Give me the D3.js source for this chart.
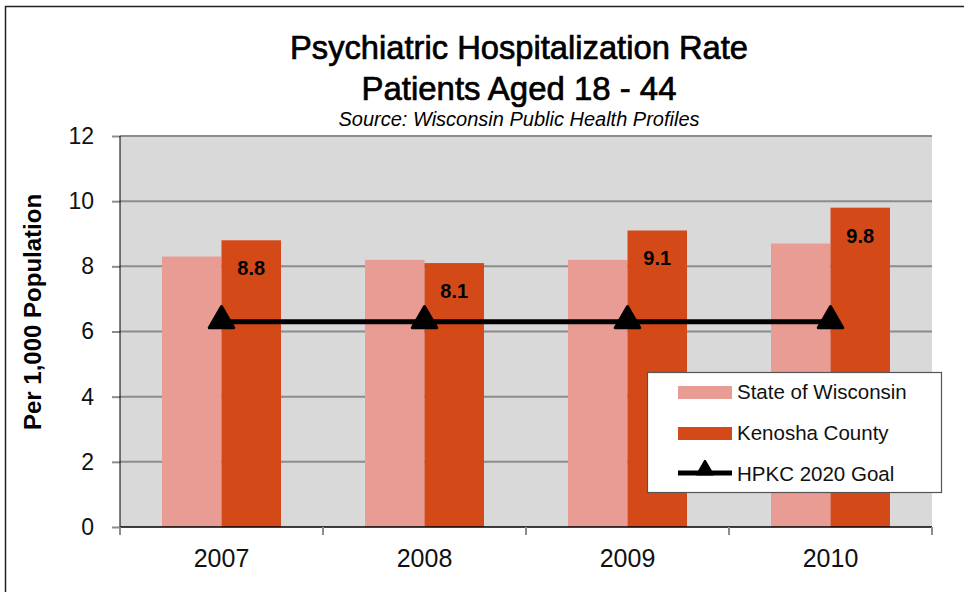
<!DOCTYPE html>
<html>
<head>
<meta charset="utf-8">
<script src="https://cdn.jsdelivr.net/npm/d3@7"></script>
<style>
  body { margin: 0; background: #fff; }
  #svg-container { width: 964px; height: 592px; }
  text { font-family: "Liberation Sans", Arial, sans-serif; }
</style>
</head>
<body>
<div id="svg-container"></div>
<script>
var years = ["2007", "2008", "2009", "2010"];
var stateValues = [8.3, 8.2, 8.2, 8.7];
var kenoshaValues = [8.8, 8.1, 9.1, 9.8];
var goalValues = [6.3, 6.3, 6.3, 6.3];
var seriesNames = ["State of Wisconsin", "Kenosha County", "HPKC 2020 Goal"];
var yTicks = [0, 2, 4, 6, 8, 10, 12];

var width = 964, height = 592;
var margin = { top: 136, right: 32, bottom: 65, left: 120 };

var svg = d3.select("#svg-container")
            .append("svg")
            .attr("width", width)
            .attr("height", height);

// outer frame (right and bottom edges fall outside the picture)
svg.append("rect")
   .attr("x", 5.5).attr("y", 6.5)
   .attr("width", 1000).attr("height", 700)
   .attr("fill", "none").attr("stroke", "#222").attr("stroke-width", 1.5);

// titles
svg.append("text").attr("x", 519).attr("y", 59)
   .attr("text-anchor", "middle").attr("font-size", 33)
   .attr("font-family", "Roboto").attr("font-weight", 500)
   .attr("stroke", "#000").attr("stroke-width", 0.7)
   .attr("textLength", 458).attr("lengthAdjust", "spacingAndGlyphs")
   .text("Psychiatric Hospitalization Rate");
svg.append("text").attr("x", 519).attr("y", 100)
   .attr("text-anchor", "middle").attr("font-size", 33)
   .attr("font-family", "Roboto").attr("font-weight", 500)
   .attr("stroke", "#000").attr("stroke-width", 0.7)
   .attr("textLength", 315).attr("lengthAdjust", "spacingAndGlyphs")
   .text("Patients Aged 18 - 44");
svg.append("text").attr("x", 519).attr("y", 126)
   .attr("text-anchor", "middle").attr("font-size", 20).attr("font-style", "italic")
   .text("Source: Wisconsin Public Health Profiles");

var g = svg.append("g")
           .attr("transform", "translate(" + margin.left + "," + margin.top + ")");

var plotW = width - margin.left - margin.right;
var plotH = height - margin.top - margin.bottom; // 391

var scaleX = d3.scaleBand().domain(years).range([0, plotW]);
var scaleSub = d3.scaleBand().domain([0, 1]).range([42, scaleX.bandwidth() - 42]);
var scaleY = d3.scaleLinear().domain([0, 12]).range([plotH, 0]);

g.append("rect").attr("width", plotW).attr("height", plotH).attr("fill", "#d9d9d9");

// gridlines
g.selectAll(".grid").data(yTicks.slice(1)).enter().append("line")
 .attr("x1", 0).attr("x2", plotW)
 .attr("y1", function(d) { return scaleY(d); })
 .attr("y2", function(d) { return scaleY(d); })
 .attr("stroke", "#8c8c8c").attr("stroke-width", 2);

// bars
g.selectAll(".state").data(stateValues).enter().append("rect")
 .attr("x", function(d, i) { return scaleX(years[i]) + scaleSub(0); })
 .attr("y", function(d) { return scaleY(d); })
 .attr("width", scaleSub.bandwidth())
 .attr("height", function(d) { return plotH - scaleY(d); })
 .attr("fill", "#e99c93");

g.selectAll(".kenosha").data(kenoshaValues).enter().append("rect")
 .attr("x", function(d, i) { return scaleX(years[i]) + scaleSub(1); })
 .attr("y", function(d) { return scaleY(d); })
 .attr("width", scaleSub.bandwidth())
 .attr("height", function(d) { return plotH - scaleY(d); })
 .attr("fill", "#d34a18");

// value labels
g.selectAll(".lbl").data(kenoshaValues).enter().append("text")
 .attr("x", function(d, i) { return scaleX(years[i]) + scaleSub(1) + scaleSub.bandwidth() / 2; })
 .attr("y", function(d) { return scaleY(d) + 35; })
 .attr("text-anchor", "middle").attr("font-size", 20).attr("font-weight", "bold")
 .attr("font-family", "DejaVu Sans")
 .text(function(d) { return d.toFixed(1); });

// goal line
var goalLine = d3.line()
  .x(function(d, i) { return scaleX(years[i]) + scaleX.bandwidth() / 2; })
  .y(function(d) { return scaleY(d); });

g.append("path").datum(goalValues)
 .attr("d", goalLine).attr("fill", "none")
 .attr("stroke", "#000").attr("stroke-width", 5);

var tri = d3.symbol().type(d3.symbolTriangle).size(260);
g.selectAll(".tri").data(goalValues).enter().append("path")
 .attr("d", tri)
 .attr("transform", function(d, i) {
   return "translate(" + (scaleX(years[i]) + scaleX.bandwidth() / 2) + "," + (scaleY(d) - 1) + ")";
 })
 .attr("fill", "#000").attr("stroke", "#000").attr("stroke-width", 3).attr("stroke-linejoin", "round");

// axes
var yAxis = g.append("g")
 .call(d3.axisLeft(scaleY).tickValues(yTicks).tickSize(8).tickPadding(18));
yAxis.select(".domain").remove();
yAxis.selectAll(".tick line").attr("stroke", "#8c8c8c").attr("stroke-width", 2);
yAxis.selectAll("text").attr("font-size", 23).attr("fill", "#111")
     .attr("font-family", "Liberation Sans");

g.append("line").attr("x1", 0).attr("x2", 0).attr("y1", 0).attr("y2", plotH)
 .attr("stroke", "#000").attr("stroke-width", 1);
g.append("line").attr("x1", 0).attr("x2", plotW).attr("y1", plotH).attr("y2", plotH)
 .attr("stroke", "#000").attr("stroke-width", 1.5);

// category boundary ticks
var bounds = years.map(function(y) { return scaleX(y); }).concat([plotW]);
g.selectAll(".xt").data(bounds).enter().append("line")
 .attr("x1", function(d) { return d; }).attr("x2", function(d) { return d; })
 .attr("y1", plotH).attr("y2", plotH + 8)
 .attr("stroke", "#8c8c8c").attr("stroke-width", 2);

g.selectAll(".xl").data(years).enter().append("text")
 .attr("x", function(d) { return scaleX(d) + scaleX.bandwidth() / 2; })
 .attr("y", plotH + 40)
 .attr("text-anchor", "middle").attr("font-size", 25).attr("fill", "#111")
 .text(function(d) { return d; });

// y axis title
svg.append("text")
 .attr("transform", "translate(41,312) rotate(-90)")
 .attr("text-anchor", "middle").attr("font-size", 24).attr("font-weight", "bold")
 .text("Per 1,000 Population");

// legend
var legend = svg.append("g").attr("transform", "translate(647,372)");
legend.append("rect").attr("x", 0.5).attr("y", 0.5).attr("width", 294).attr("height", 120)
 .attr("fill", "#fff").attr("stroke", "#555").attr("stroke-width", 1.2);
var swatchColors = ["#e99c93", "#d34a18"];
swatchColors.forEach(function(c, i) {
  legend.append("rect").attr("x", 31).attr("y", 14 + i * 41).attr("width", 54).attr("height", 13)
    .attr("fill", c);
});
legend.append("line").attr("x1", 31).attr("x2", 85).attr("y1", 101).attr("y2", 101)
 .attr("stroke", "#000").attr("stroke-width", 5);
legend.append("path").attr("d", d3.symbol().type(d3.symbolTriangle).size(110))
 .attr("transform", "translate(58,98)")
 .attr("fill", "#000").attr("stroke", "#000").attr("stroke-width", 2).attr("stroke-linejoin", "round");
seriesNames.forEach(function(n, i) {
  legend.append("text").attr("x", 90).attr("y", 27 + i * 41)
    .attr("font-size", 20.5).attr("fill", "#111").text(n);
});
</script>
</body>
</html>
